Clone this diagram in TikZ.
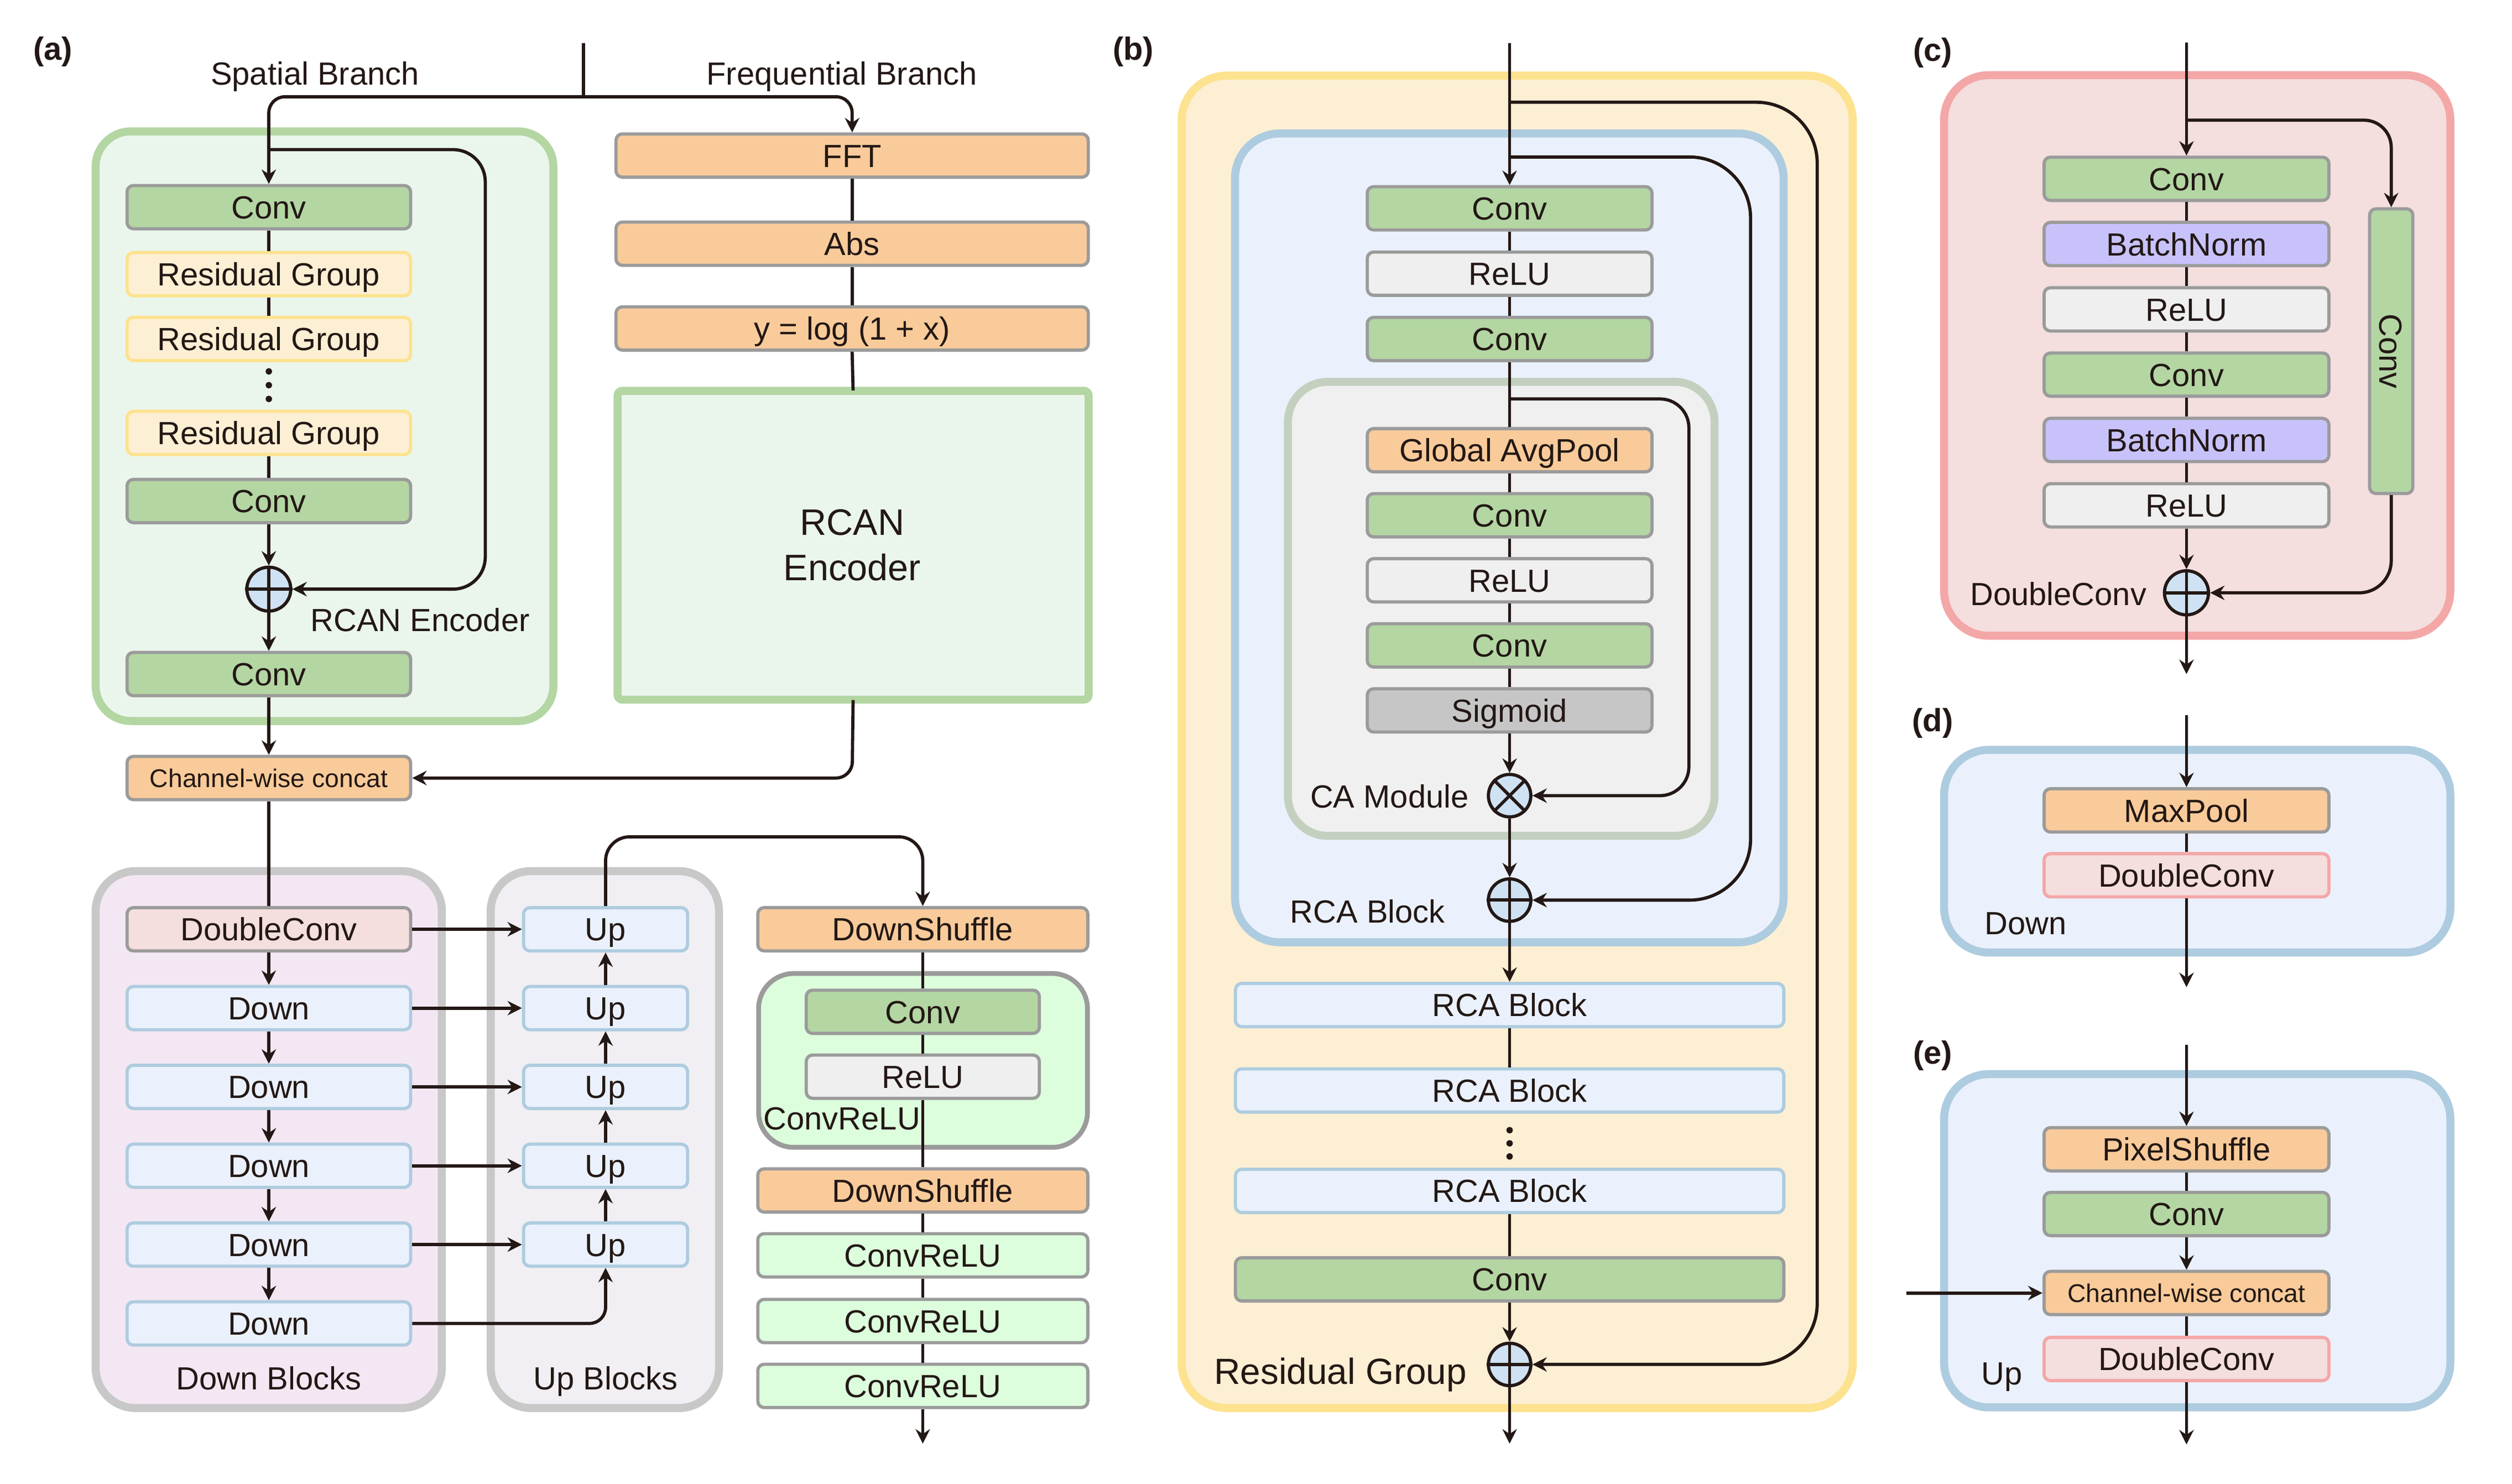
\documentclass[tikz,border=0pt]{standalone}
\usepackage{fontspec}
\setmainfont{Liberation Sans}
\usetikzlibrary{arrows.meta}
\definecolor{ink}{HTML}{231815}
\definecolor{bxgray}{HTML}{9B9B9B}
\definecolor{cgreen}{HTML}{B3D6A3}
\definecolor{corange}{HTML}{F9CB9A}
\definecolor{crelu}{HTML}{EFEFEF}
\definecolor{csig}{HTML}{C6C6C6}
\definecolor{cbn}{HTML}{C8C2FB}
\definecolor{cpink}{HTML}{F4DEDE}
\definecolor{cpinkb}{HTML}{F4A7A7}
\definecolor{cbluef}{HTML}{EAF1FC}
\definecolor{cblueb}{HTML}{AECCDF}
\definecolor{cyelf}{HTML}{FCEFD3}
\definecolor{cyelb}{HTML}{FDE28F}
\definecolor{ccr}{HTML}{DCFEDC}
\definecolor{rcanf}{HTML}{EAF6EC}
\definecolor{downf}{HTML}{F3E7F3}
\definecolor{upf}{HTML}{F1EFF3}
\definecolor{contgray}{HTML}{C8C8C8}
\definecolor{caf}{HTML}{F0F0F0}
\definecolor{cab}{HTML}{C4D0BF}
\definecolor{plusf}{HTML}{CFE2F3}
\begin{document}
\begin{tikzpicture}[x=1pt,y=-1pt,
  bx/.style={draw=bxgray, line width=2pt, rounded corners=4pt, minimum height=27pt, inner sep=0pt, text=ink, font=\fontsize{20}{24}\selectfont, text height=14.4pt, text depth=0pt},
  convb/.style={bx, fill=cgreen},
  orb/.style={bx, fill=corange},
  relub/.style={bx, fill=crelu},
  sigb/.style={bx, fill=csig},
  bnb/.style={bx, fill=cbn},
  rgb/.style={bx, fill=cyelf, draw=cyelb},
  blueb/.style={bx, fill=cbluef, draw=cblueb},
  dcb/.style={bx, fill=cpink},
  dcpb/.style={bx, fill=cpink, draw=cpinkb},
  crb/.style={bx, fill=ccr},
  smallf/.style={font=\fontsize{16}{19}\selectfont, text height=11.5pt},
  wa/.style={minimum width=177pt},
  wf/.style={minimum width=294.8pt},
  wu/.style={minimum width=102.4pt},
  wr/.style={minimum width=206pt},
  wb/.style={minimum width=177.7pt},
  wrb/.style={minimum width=342.3pt},
  wc/.style={minimum width=177.8pt},
  cont/.style={line width=5pt},
  lbl/.style={text=ink, font=\fontsize{20}{24}\selectfont, inner sep=0pt, text height=14.4pt, text depth=0pt},
  plbl/.style={text=ink, font=\fontsize{20}{24}\selectfont\bfseries, inner sep=0pt},
  ln/.style={draw=ink, line width=2pt},
  arr/.style={draw=ink, line width=2pt, -{Stealth[length=9pt,width=9pt,inset=3pt]}},
  opcirc/.style={circle, draw=ink, line width=2pt, fill=plusf, minimum size=26.5pt, inner sep=0pt},
  dotc/.style={circle, fill=ink, inner sep=0pt, minimum size=4pt}
]
\useasboundingbox (0,0) rectangle (1568,926);

% ================= containers =================
\draw[cont, draw=cgreen, fill=rcanf, rounded corners=22pt] (59.7,82) rectangle (345.4,450);
\draw[cont, draw=cgreen, fill=rcanf, rounded corners=3pt] (385.5,243.9) rectangle (679.5,436.7);
\draw[cont, draw=contgray, fill=downf, rounded corners=25pt] (59.7,543.7) rectangle (275.8,878.8);
\draw[cont, draw=contgray, fill=upf, rounded corners=25pt] (306.3,543.7) rectangle (448.8,878.8);
\draw[line width=3pt, draw=bxgray, fill=ccr, rounded corners=22pt] (473.5,607.6) rectangle (678.8,716.1);
\draw[cont, draw=cyelb, fill=cyelf, rounded corners=28pt] (737.6,47.2) rectangle (1156.5,878.8);
\draw[cont, draw=cblueb, fill=cbluef, rounded corners=28pt] (770.9,83.3) rectangle (1113.3,588.1);
\draw[cont, draw=cab, fill=caf, rounded corners=25pt] (803.9,238.3) rectangle (1070.2,521.7);
\draw[cont, draw=cpinkb, fill=cpink, rounded corners=28pt] (1213.5,46.9) rectangle (1529.5,396.8);
\draw[cont, draw=cblueb, fill=cbluef, rounded corners=28pt] (1213.5,468) rectangle (1529.5,594.5);
\draw[cont, draw=cblueb, fill=cbluef, rounded corners=28pt] (1213.5,670.4) rectangle (1529.5,878.4);

% ================= panel labels =================
\node[plbl] (la) at (33,32.4) {(a)};
\node[plbl] (lb) at (707.4,32.4) {(b)};
\node[plbl] (lc) at (1206.4,32.9) {(c)};
\node[plbl] (ld) at (1206.4,451.5) {(d)};
\node[plbl] (le) at (1206.4,658.7) {(e)};

% ================= panel (a) =================
\node[lbl] (tsp) at (196.6,45.8) {Spatial Branch};
\node[lbl] (tfr) at (525.5,45.8) {Frequential Branch};

\node[convb, wa] (aconv1) at (167.8,129.3) {Conv};
\node[rgb, wa] (arg1) at (167.8,171.1) {Residual Group};
\node[rgb, wa] (arg2) at (167.8,211.6) {Residual Group};
\node[dotc] (adot1) at (167.8,231.8) {};
\node[dotc] (adot2) at (167.8,240.4) {};
\node[dotc] (adot3) at (167.8,249) {};
\node[rgb, wa] (arg3) at (167.8,270.2) {Residual Group};
\node[convb, wa] (aconv2) at (167.8,312.7) {Conv};
\node[opcirc, minimum size=27.4pt] (aplus) at (167.8,367.7) {};
\draw[ln] (aplus.north) -- (aplus.south) (aplus.west) -- (aplus.east);
\node[lbl, anchor=west] (trcan) at (193.7,386.8) {RCAN Encoder};
\node[convb, wa] (aconv3) at (167.8,420.7) {Conv};
\node[orb, wa, smallf] (aconcat) at (167.8,485.6) {Channel-wise concat};

\node[orb, wf] (fft) at (531.9,97.1) {FFT};
\node[orb, wf] (abs) at (531.9,152.1) {Abs};
\node[orb, wf] (flog) at (531.9,205) {y = log (1 + x)};
\node[inner sep=0pt, minimum width=294pt, minimum height=192.8pt] (rcanR) at (532.5,340.3) {};
\node[text=ink, font=\fontsize{23}{28.5}\selectfont, align=center] (rcanT) at (531.9,340.3) {RCAN\\Encoder};

\coordinate (atop) at (364.2,26.8);
\coordinate (asplit) at (364.2,60.4);
\coordinate (askip) at (167.8,93.4);
\draw[ln] (atop) -- (asplit);
\draw[arr, rounded corners=10pt] (asplit) -- (167.8,60.4) -- (aconv1.north);
\draw[arr, rounded corners=10pt] (asplit) -- (531.9,60.4) -- (fft.north);
\draw[ln] (aconv1.south) -- (arg1.north);
\draw[ln] (arg1.south) -- (arg2.north);
\draw[ln] (arg3.south) -- (aconv2.north);
\draw[arr] (aconv2.south) -- (aplus.north);
\draw[arr] (aplus.south) -- (aconv3.north);
\draw[arr] (aconv3.south) -- (aconcat.north);
\draw[arr, rounded corners=20pt] (askip) -- (302.9,93.4) -- (302.9,367.7) -- (aplus.east);
\draw[ln] (fft.south) -- (abs.north);
\draw[ln] (abs.south) -- (flog.north);
\draw[ln] (flog.south) -- (rcanR.north);
\draw[arr, rounded corners=10pt] (rcanR.south) -- (531.9,485.6) -- (aconcat.east);

% down / up blocks
\node[dcb, wa] (dc) at (167.8,580) {DoubleConv};
\node[blueb, wa] (d1) at (167.8,629.2) {Down};
\node[blueb, wa] (d2) at (167.8,678.4) {Down};
\node[blueb, wa] (d3) at (167.8,727.6) {Down};
\node[blueb, wa] (d4) at (167.8,776.8) {Down};
\node[blueb, wa] (d5) at (167.8,826) {Down};
\node[lbl] (tdown) at (167.8,860.1) {Down Blocks};
\node[blueb, wu] (u0) at (378,580) {Up};
\node[blueb, wu] (u1) at (378,629.2) {Up};
\node[blueb, wu] (u2) at (378,678.4) {Up};
\node[blueb, wu] (u3) at (378,727.6) {Up};
\node[blueb, wu] (u4) at (378,776.8) {Up};
\node[lbl] (tup) at (378,860.1) {Up Blocks};

\draw[ln] (aconcat.south) -- (dc.north);
\draw[arr] (dc.south) -- (d1.north);
\draw[arr] (d1.south) -- (d2.north);
\draw[arr] (d2.south) -- (d3.north);
\draw[arr] (d3.south) -- (d4.north);
\draw[arr] (d4.south) -- (d5.north);
\draw[arr] (dc.east) -- (u0.west);
\draw[arr] (d1.east) -- (u1.west);
\draw[arr] (d2.east) -- (u2.west);
\draw[arr] (d3.east) -- (u3.west);
\draw[arr] (d4.east) -- (u4.west);
\draw[arr, rounded corners=10pt] (d5.east) -- (378,826) -- (u4.south);
\draw[arr] (u4.north) -- (u3.south);
\draw[arr] (u3.north) -- (u2.south);
\draw[arr] (u2.north) -- (u1.south);
\draw[arr] (u1.north) -- (u0.south);

% right column
\node[orb, wr] (ds1) at (576,580) {DownShuffle};
\node[convb, minimum width=145.5pt] (icv) at (576,631.5) {Conv};
\node[relub, minimum width=145.5pt] (irl) at (576,672) {ReLU};
\node[lbl, anchor=west] (tcr) at (476.4,697.8) {ConvReLU};
\node[orb, wr] (ds2) at (576,743) {DownShuffle};
\node[crb, wr] (cr1) at (576,783.5) {ConvReLU};
\node[crb, wr] (cr2) at (576,824.5) {ConvReLU};
\node[crb, wr] (cr3) at (576,865) {ConvReLU};
\coordinate (aend) at (576,901);
\draw[arr, rounded corners=15pt] (u0.north) -- (378,522.3) -- (576,522.3) -- (ds1.north);
\draw[ln] (ds1.south) -- (icv.north);
\draw[ln] (icv.south) -- (irl.north);
\draw[ln] (irl.south) -- (ds2.north);
\draw[ln] (ds2.south) -- (cr1.north);
\draw[ln] (cr1.south) -- (cr2.north);
\draw[ln] (cr2.south) -- (cr3.north);
\draw[arr] (cr3.south) -- (aend);

% ================= panel (b) =================
\node[convb, wb] (bconv1) at (942.3,130) {Conv};
\node[relub, wb] (brelu1) at (942.3,170.8) {ReLU};
\node[convb, wb] (bconv2) at (942.3,211.6) {Conv};
\node[orb, wb] (gap) at (942.3,281) {Global AvgPool};
\node[convb, wb] (bconv3) at (942.3,321.6) {Conv};
\node[relub, wb] (brelu2) at (942.3,362.2) {ReLU};
\node[convb, wb] (bconv4) at (942.3,402.8) {Conv};
\node[sigb, wb] (sig) at (942.3,443.4) {Sigmoid};
\node[opcirc] (times) at (942.3,496.6) {};
\draw[ln] (times.north west) -- (times.south east) (times.north east) -- (times.south west);
\node[lbl, anchor=east] (tca) at (917,497) {CA Module};
\node[opcirc] (plusrca) at (942.3,561.8) {};
\draw[ln] (plusrca.north) -- (plusrca.south) (plusrca.west) -- (plusrca.east);
\node[lbl, anchor=west] (trca) at (805.1,568.8) {RCA Block};
\node[blueb, wrb] (rb1) at (942.3,627.3) {RCA Block};
\node[blueb, wrb] (rb2) at (942.3,680.6) {RCA Block};
\node[dotc] (bdot1) at (942.3,705.4) {};
\node[dotc] (bdot2) at (942.3,713.6) {};
\node[dotc] (bdot3) at (942.3,721.8) {};
\node[blueb, wrb] (rb3) at (942.3,743.3) {RCA Block};
\node[convb, wrb] (bconv5) at (942.3,798.5) {Conv};
\node[opcirc] (plusrg) at (942.3,851.6) {};
\draw[ln] (plusrg.north) -- (plusrg.south) (plusrg.west) -- (plusrg.east);
\node[text=ink, font=\fontsize{22.7}{27}\selectfont, inner sep=0pt, anchor=west, text height=16.3pt, text depth=0pt] (trg) at (757.6,855.9) {Residual Group};

\coordinate (btop) at (942.3,26.8);
\coordinate (bsk1) at (942.3,63.8);
\coordinate (bsk2) at (942.3,98);
\coordinate (bsk3) at (942.3,249);
\coordinate (bend) at (942.3,901);
\draw[arr] (btop) -- (bconv1.north);
\draw[ln] (bconv1.south) -- (brelu1.north);
\draw[ln] (brelu1.south) -- (bconv2.north);
\draw[ln] (bconv2.south) -- (gap.north);
\draw[ln] (gap.south) -- (bconv3.north);
\draw[ln] (bconv3.south) -- (brelu2.north);
\draw[ln] (brelu2.south) -- (bconv4.north);
\draw[ln] (bconv4.south) -- (sig.north);
\draw[arr] (sig.south) -- (times.north);
\draw[arr] (times.south) -- (plusrca.north);
\draw[arr] (plusrca.south) -- (rb1.north);
\draw[ln] (rb1.south) -- (rb2.north);
\draw[ln] (rb3.south) -- (bconv5.north);
\draw[arr] (bconv5.south) -- (plusrg.north);
\draw[arr] (plusrg.south) -- (bend);
\draw[arr, rounded corners=38pt] (bsk1) -- (1134.3,63.8) -- (1134.3,851.6) -- (plusrg.east);
\draw[arr, rounded corners=38pt] (bsk2) -- (1092.7,98) -- (1092.7,561.8) -- (plusrca.east);
\draw[arr, rounded corners=18pt] (bsk3) -- (1054.2,249) -- (1054.2,496.6) -- (times.east);

% ================= panel (c) =================
\node[convb, wc] (cconv1) at (1364.8,111.6) {Conv};
\node[bnb, wc] (cbn1) at (1364.8,152.3) {BatchNorm};
\node[relub, wc] (crelu1) at (1364.8,193.1) {ReLU};
\node[convb, wc] (cconv2) at (1364.8,233.8) {Conv};
\node[bnb, wc] (cbn2) at (1364.8,274.6) {BatchNorm};
\node[relub, wc] (crelu2) at (1364.8,315.4) {ReLU};
\node[convb, rotate=-90, minimum width=177.7pt] (cconvr) at (1492.6,219.2) {Conv};
\node[opcirc, minimum size=27.5pt] (cplus) at (1364.8,370) {};
\draw[ln] (cplus.north) -- (cplus.south) (cplus.west) -- (cplus.east);
\node[lbl, anchor=west] (tdc) at (1229.6,370.6) {DoubleConv};
\coordinate (ctop) at (1364.8,26.6);
\coordinate (csk) at (1364.8,75);
\coordinate (cend) at (1364.8,420.7);
\draw[arr] (ctop) -- (cconv1.north);
\draw[ln] (cconv1.south) -- (cbn1.north);
\draw[ln] (cbn1.south) -- (crelu1.north);
\draw[ln] (crelu1.south) -- (cconv2.north);
\draw[ln] (cconv2.south) -- (cbn2.north);
\draw[ln] (cbn2.south) -- (crelu2.north);
\draw[arr] (crelu2.south) -- (cplus.north);
\draw[arr] (cplus.south) -- (cend);
\draw[arr, rounded corners=17pt] (csk) -- (1492.6,75) -- (cconvr.west);
\draw[arr, rounded corners=20pt] (cconvr.east) -- (1492.6,370) -- (cplus.east);

% ================= panel (d) =================
\node[orb, wc] (mp) at (1364.8,505.8) {MaxPool};
\node[dcpb, wc] (ddc) at (1364.8,546.3) {DoubleConv};
\node[lbl, anchor=west] (tdn) at (1238.6,576) {Down};
\coordinate (dtop) at (1364.8,446.5);
\coordinate (dend) at (1364.8,616.1);
\draw[arr] (dtop) -- (mp.north);
\draw[ln] (mp.south) -- (ddc.north);
\draw[arr] (ddc.south) -- (dend);

% ================= panel (e) =================
\node[orb, wc] (ps) at (1364.8,717.3) {PixelShuffle};
\node[convb, wc] (econv) at (1364.8,757.7) {Conv};
\node[orb, wc, smallf] (econcat) at (1364.8,807) {Channel-wise concat};
\node[dcpb, wc] (edc) at (1364.8,848.2) {DoubleConv};
\node[lbl, anchor=west] (tupl) at (1236.6,857) {Up};
\coordinate (etop) at (1364.8,652);
\coordinate (ein) at (1190.1,807);
\coordinate (eend) at (1364.8,901.5);
\draw[arr] (etop) -- (ps.north);
\draw[ln] (ps.south) -- (econv.north);
\draw[arr] (econv.south) -- (econcat.north);
\draw[arr] (ein) -- (econcat.west);
\draw[ln] (econcat.south) -- (edc.north);
\draw[arr] (edc.south) -- (eend);
\end{tikzpicture}
\end{document}
